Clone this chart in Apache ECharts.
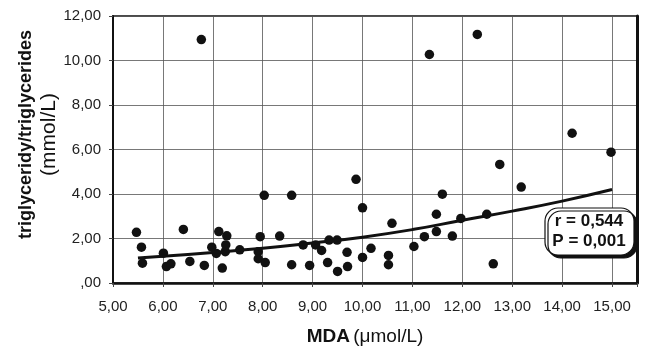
<!DOCTYPE html>
<html>
<head>
<meta charset="utf-8">
<script src="https://cdn.jsdelivr.net/npm/echarts@6/dist/echarts.min.js"></script>
<style>
html, body { margin: 0; padding: 0; background: #fff; }
#main { width: 645px; height: 351px; }
</style>
</head>
<body>
<div id="main"></div>
<script>
let chartDom = document.getElementById('main');
let myChart = echarts.init(chartDom);

// MDA (umol/L) and triglycerides (mmol/L)
let mda = [5.47, 5.57, 5.59, 6.01, 6.07, 6.16, 6.41, 6.54, 6.77, 6.83,
	6.98, 7.07, 7.12, 7.19, 7.25, 7.26, 7.28, 7.54, 7.91, 7.91,
	7.95, 8.03, 8.05, 8.34, 8.58, 8.58, 8.81, 8.94, 9.06, 9.18,
	9.30, 9.33, 9.49, 9.50, 9.69, 9.70, 9.87, 10.00, 10.00, 10.17,
	10.52, 10.52, 10.59, 11.03, 11.24, 11.34, 11.48, 11.48, 11.60, 11.80,
	11.97, 12.30, 12.49, 12.62, 12.75, 13.18, 14.20, 14.98];
let tg = [2.28, 1.61, 0.89, 1.34, 0.74, 0.86, 2.41, 0.97, 10.94, 0.79,
	1.61, 1.33, 2.31, 0.67, 1.41, 1.71, 2.12, 1.49, 1.41, 1.09,
	2.08, 3.94, 0.92, 2.11, 3.94, 0.82, 1.71, 0.79, 1.71, 1.46,
	0.92, 1.93, 1.93, 0.52, 1.38, 0.74, 4.66, 3.38, 1.15, 1.56,
	1.24, 0.82, 2.68, 1.64, 2.08, 10.27, 2.31, 3.09, 3.99, 2.11,
	2.90, 11.17, 3.09, 0.86, 5.33, 4.31, 6.73, 5.88];

// fitted curve
let fitX = [5.5, 6, 7, 8, 9, 10, 11, 12, 13, 14, 15];
let fitY = [1.12, 1.2, 1.37, 1.56, 1.8, 2.06, 2.4, 2.82, 3.23, 3.68, 4.2];

let statLines = ['r = 0,544', 'P = 0,001'];

function comma(v) {
	if (v === 0) return ',00';
	return v.toFixed(2).replace('.', ',');
}

let scatterData = mda.map((x, i) => [x, tg[i]]);
let fitData = fitX.map((x, i) => [x, fitY[i]]);

let font = 'Liberation Sans, Arial, sans-serif';

let option = {
	animation: false,
	textStyle: { fontFamily: font },
	grid: {
		left: 113, right: 8, top: 16, bottom: 66,
		show: true, borderColor: '#111', borderWidth: 1.5
	},
	xAxis: {
		type: 'value',
		min: 5, max: 15.5, interval: 1,
		name: '{b|MDA} {n|(μmol/L)}',
		nameLocation: 'middle',
		nameGap: 44,
		nameMoveOverlap: false,
		nameTextStyle: {
			padding: [0, 20, 0, 0],
			rich: {
				b: { fontFamily: font, fontWeight: 'bold', fontSize: 19, color: '#111' },
				n: { fontFamily: font, fontSize: 19, color: '#111' }
			}
		},
		axisLine: { onZero: false, lineStyle: { color: '#111', width: 2.5 } },
		axisTick: { show: true, length: 4, lineStyle: { color: '#444' } },
		axisLabel: {
			margin: 16, fontSize: 15, color: '#222', fontFamily: font,
			formatter: (v) => v > 15 ? '' : comma(v)
		},
		splitLine: { show: true, lineStyle: { color: '#555', width: 0.8 } }
	},
	yAxis: [{
		type: 'value',
		min: 0, max: 12, interval: 2,
		name: '{b|triglyceridy/triglycerides}\n{n|(mmol/L)}',
		nameLocation: 'middle',
		nameRotate: 90,
		nameGap: 52,
		nameMoveOverlap: false,
		nameTextStyle: {
			padding: [0, 0, 0, 30],
			rich: {
				b: { fontFamily: font, fontWeight: 'bold', fontSize: 18, color: '#111', lineHeight: 23 },
				n: { fontFamily: font, fontSize: 21, color: '#111', lineHeight: 23 }
			}
		},
		axisLine: { show: true, lineStyle: { color: '#111', width: 2 } },
		axisTick: { show: true, length: 4, lineStyle: { color: '#444' } },
		axisLabel: {
			margin: 12, fontSize: 15, color: '#222', fontFamily: font,
			formatter: comma
		},
		splitLine: { show: true, lineStyle: { color: '#555', width: 0.8 } }
	}, {
		type: 'value',
		position: 'right',
		min: 0, max: 12,
		axisLine: { show: true, lineStyle: { color: '#111', width: 3 } },
		axisTick: { show: false },
		axisLabel: { show: false },
		splitLine: { show: false }
	}],
	series: [{
		type: 'scatter',
		data: scatterData,
		symbolSize: 9.5,
		itemStyle: { color: '#111', opacity: 1 },
		z: 3
	}, {
		type: 'line',
		data: fitData,
		smooth: true,
		showSymbol: false,
		lineStyle: { color: '#111', width: 3 },
		z: 4
	}],
	graphic: [{
		type: 'rect',
		shape: { x: 545, y: 208, width: 89, height: 47, r: 13 },
		style: {
			fill: '#fff', stroke: '#111', lineWidth: 1.2,
			shadowColor: '#111', shadowOffsetX: 3, shadowOffsetY: 3, shadowBlur: 0
		},
		z: 10
	}, {
		type: 'text',
		x: 589, y: 221,
		style: {
			text: statLines[0], fontFamily: font, fontWeight: 'bold', fontSize: 17,
			fill: '#111', align: 'center', verticalAlign: 'middle'
		},
		z: 11
	}, {
		type: 'text',
		x: 589, y: 241,
		style: {
			text: statLines[1], fontFamily: font, fontWeight: 'bold', fontSize: 17,
			fill: '#111', align: 'center', verticalAlign: 'middle'
		},
		z: 11
	}]
};

myChart.setOption(option);
</script>
</body>
</html>
